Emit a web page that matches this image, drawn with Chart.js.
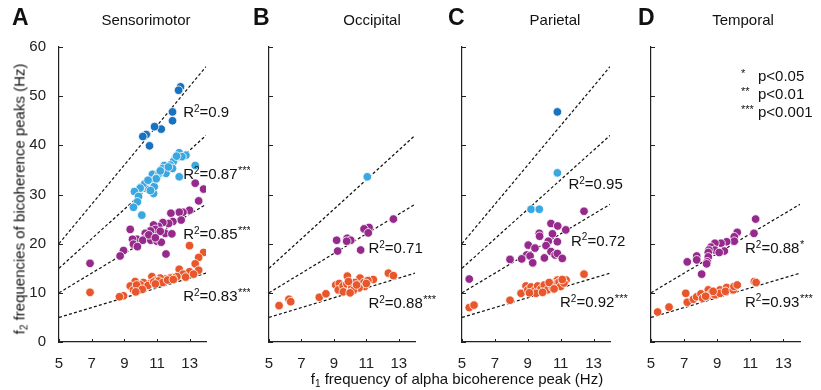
<!DOCTYPE html>
<html>
<head>
<meta charset="utf-8">
<script src="https://cdn.jsdelivr.net/npm/chart.js@4.4.0/dist/chart.umd.min.js"></script>
<style>
body{margin:0;background:#fff;width:821px;height:390px;position:relative;overflow:hidden;font-family:"Liberation Sans",Arial,Helvetica,sans-serif;color:#111}
canvas{position:absolute;top:0}
.let{position:absolute;top:4px;font-weight:bold;font-size:23px}
.ttl{position:absolute;top:11px;font-size:15px;transform:translateX(-50%);white-space:nowrap}
sub{font-size:10px;vertical-align:-3px;line-height:0}
#ytitle{position:absolute;left:19px;top:199px;transform:translate(-50%,-50%) rotate(-90deg);white-space:nowrap;font-size:15px}
#xtitle{position:absolute;left:457px;top:378px;transform:translate(-50%,-50%);white-space:nowrap;font-size:15px}
.lg{position:absolute;left:741px;font-size:15px;white-space:nowrap}
.lg span{display:inline-block;width:17px;font-size:11px;vertical-align:4px}
</style>
</head>
<body>
<canvas id="pA" width="250" height="372" style="left:0px"></canvas>
<canvas id="pB" width="190" height="372" style="left:250px"></canvas>
<canvas id="pC" width="190" height="372" style="left:440px"></canvas>
<canvas id="pD" width="191" height="372" style="left:630px"></canvas>

<div class="let" style="left:12px">A</div>
<div class="let" style="left:253px">B</div>
<div class="let" style="left:448px">C</div>
<div class="let" style="left:638px">D</div>
<div class="ttl" style="left:146px">Sensorimotor</div>
<div class="ttl" style="left:372px">Occipital</div>
<div class="ttl" style="left:555px">Parietal</div>
<div class="ttl" style="left:743px">Temporal</div>
<div id="ytitle">f<sub>2</sub> frequencies of bicoherence peaks (Hz)</div>
<div id="xtitle">f<sub>1</sub> frequency of alpha bicoherence peak (Hz)</div>
<div class="lg" style="top:67px"><span>*</span>p&lt;0.05</div>
<div class="lg" style="top:85px"><span>**</span>p&lt;0.01</div>
<div class="lg" style="top:103px"><span>***</span>p&lt;0.001</div>

<script>
var xTicks = [5, 7, 9, 11, 13];
var yTicks = [0, 10, 20, 30, 40, 50, 60];
var fitX = [5, 14];

// harmonic colours: f1, 2f1, 3f1, 4f1
var colors = ['#e8572b', '#962a8c', '#3ba7e1', '#1872bf'];

// Sensorimotor
var smH1 = [[6.9,10.1],[12.99,19.6],[13.85,18.2],[13.55,17.2],[13.34,15.9],[13.55,14.6],[12.36,14.8],[12.99,14.3],[13.24,13.8],[12.59,13.8],[12.22,13.3],[11.95,13.1],[11.81,13.0],[11.5,12.8],[11.2,13.0],[10.69,13.3],[10.9,12.5],[10.58,11.9],[10.17,12.1],[9.66,12.3],[9.36,11.4],[9.56,10.6],[9.87,10.9],[10.28,11.2],[10.0,11.6],[10.45,11.5],[10.8,12.2],[11.1,12.4],[11.35,12.1],[11.65,12.6],[9.75,11.6],[10.1,10.7],[8.95,9.4],[8.7,9.2],[10.9,11.8],[12.0,12.7],[12.75,13.2],[9.7,10.2]];
var smH2 = [[13.34,32.3],[13.85,31.1],[13.55,28.7],[12.99,26.8],[12.59,26.4],[12.36,26.4],[11.85,26.2],[12.48,24.8],[11.97,24.5],[11.71,24.1],[11.36,24.3],[11.09,23.5],[10.79,23.8],[10.89,22.9],[10.6,22.6],[9.36,22.9],[10.28,22.1],[11.5,22.1],[11.91,22.0],[10.38,21.4],[9.77,20.9],[9.5,20.9],[10.13,20.7],[10.62,20.7],[11.0,20.5],[11.26,20.3],[9.56,19.9],[9.8,19.4],[8.95,18.6],[8.74,17.5],[11.55,17.9],[6.9,16.0],[10.5,21.8],[11.2,22.5],[10.9,21.2]];
var smH3 = [[12.77,38.0],[12.36,38.5],[12.53,37.7],[12.12,37.4],[12.0,36.7],[11.81,36.0],[11.44,35.9],[11.34,35.3],[11.55,34.3],[11.95,35.3],[13.34,35.9],[12.36,33.6],[10.72,34.1],[11.03,33.6],[11.13,34.3],[10.83,32.9],[10.58,32.6],[10.38,31.9],[10.07,31.6],[10.25,32.2],[9.66,30.6],[9.97,31.3],[10.79,30.2],[10.5,31.0],[9.62,30.6],[9.87,29.6],[9.8,28.5],[9.56,27.4],[10.07,25.8],[10.83,31.6],[10.6,30.8],[11.2,34.8],[11.7,35.6],[10.95,33.2],[10.45,32.9],[12.2,37.8]];
var smH4 = [[12.44,51.9],[12.32,51.2],[11.95,46.8],[11.95,45.0],[11.26,43.3],[10.85,43.8],[10.34,42.2],[10.13,41.8],[10.54,39.9]];

// Occipital
var ocH1 = [[5.62,7.4],[6.23,8.7],[6.34,8.2],[8.1,9.1],[8.51,9.8],[9.11,11.6],[9.33,11.9],[9.83,13.4],[10.61,13.0],[11.43,12.7],[12.36,14.0],[12.67,13.5],[9.27,10.6],[9.57,11.4],[9.8,11.8],[10.1,11.2],[10.3,12.1],[10.85,12.1],[11.1,12.5],[10.9,11.3],[10.55,11.0],[9.58,10.2],[10.2,10.5],[11.0,11.9],[10.0,10.0],[9.9,12.3],[10.4,11.6]];
var ocH2 = [[12.67,25.0],[11.17,23.3],[10.86,23.0],[11.12,22.2],[9.17,20.7],[9.82,21.1],[10.04,20.7],[9.79,20.5],[9.23,18.5],[10.65,18.7]];
var ocH3 = [[11.06,33.6]];

// Parietal
var paH1 = [[5.44,7.0],[5.73,7.5],[7.92,8.5],[8.59,9.9],[12.42,13.8],[8.89,11.4],[11.33,12.6],[10.8,12.6],[9.0,10.6],[9.2,11.2],[9.4,10.4],[9.6,11.4],[9.8,10.8],[9.5,9.9],[10.0,11.6],[10.2,10.6],[10.4,11.9],[10.5,11.1],[10.7,11.8],[10.9,12.2],[11.0,11.3],[11.2,12.0],[9.1,10.0],[9.9,10.1],[10.3,12.1],[10.6,10.8],[11.1,12.7]];
var paH2 = [[5.44,12.8],[12.42,26.6],[10.41,24.1],[10.82,23.6],[11.31,22.8],[9.7,22.1],[9.72,21.5],[10.5,22.0],[10.25,20.5],[10.8,20.4],[9.03,19.7],[10.11,19.6],[9.44,19.1],[10.41,18.4],[8.93,17.7],[9.14,17.5],[10.66,17.7],[10.8,18.0],[7.92,16.8],[8.63,16.9],[10.01,17.1],[11.1,17.0],[9.3,16.1]];
var paH3 = [[10.8,34.4],[9.2,27.0],[9.7,27.0]];
var paH4 = [[10.8,46.8]];

// Temporal
var teH1 = [[5.4,6.1],[6.09,7.1],[7.1,9.9],[7.19,8.1],[7.56,8.7],[7.76,9.2],[8.02,9.8],[8.12,8.9],[8.46,10.6],[8.46,9.4],[8.66,10.0],[8.86,9.6],[9.17,10.6],[9.17,9.9],[9.57,11.1],[9.5,10.3],[9.97,10.6],[10.01,11.3],[10.21,11.6],[11.24,12.3],[11.35,12.1],[8.3,9.3],[8.75,10.3]];
var teH2 = [[11.32,25.0],[11.22,22.1],[10.21,22.3],[10.03,21.4],[10.03,20.5],[9.57,20.4],[9.23,20.1],[8.86,20.1],[8.62,19.3],[8.86,18.7],[9.43,18.5],[9.12,18.2],[8.5,18.7],[8.46,18.2],[8.46,17.3],[7.76,17.5],[7.76,16.7],[8.4,16.3],[7.19,16.3],[8.36,15.9],[8.06,13.8]];

// fitted lines: y at x=5 and x=14
var fitsA = [[5,14],[10,28],[15,42],[20,56]];
var fitsB = [[5,14],[10,28],[15,42]];
var fitsC = [[5,14],[10,28],[15,42],[20,56]];
var fitsD = [[5,14],[10,28]];

// R2 value, stars
var r2A = [['0.9',''],['0.87','***'],['0.85','***'],['0.83','***']];
var r2B = [['0.71',''],['0.88','***']];
var r2C = [['0.95',''],['0.72',''],['0.92','***']];
var r2D = [['0.88','*'],['0.93','***']];

// where the R2 texts sit (data coords)
var posA = [[12.6,46.6],[12.6,34.0],[12.6,21.8],[12.6,9.1]];
var posB = [[11.13,18.9],[11.13,7.7]];
var posC = [[11.47,31.9],[11.63,20.4],[10.96,7.9]];
var posD = [[10.68,18.9],[10.68,8.0]];

var FONT = '"Liberation Sans", Arial, Helvetica, sans-serif';

function notesPlugin(texts, pos) {
  return {
    id: 'notes',
    afterDatasetsDraw: function(chart) {
      var ctx = chart.ctx, x = chart.scales.x, y = chart.scales.y, a = chart.chartArea;
      ctx.save();
      ctx.strokeStyle = '#222';
      ctx.lineWidth = 1;
      y.ticks.forEach(function(t) {
        var py = Math.round(y.getPixelForValue(t.value)) + 0.5;
        ctx.beginPath(); ctx.moveTo(a.left, py); ctx.lineTo(a.left + 4, py); ctx.stroke();
      });
      x.ticks.forEach(function(t) {
        var px = Math.round(x.getPixelForValue(t.value)) + 0.5;
        ctx.beginPath(); ctx.moveTo(px, a.bottom); ctx.lineTo(px, a.bottom - 3); ctx.stroke();
      });
      ctx.fillStyle = '#111';
      ctx.textBaseline = 'middle';
      ctx.textAlign = 'left';
      texts.forEach(function(t, i) {
        var px = x.getPixelForValue(pos[i][0]);
        var py = y.getPixelForValue(pos[i][1]);
        ctx.font = '15px ' + FONT;
        ctx.fillText('R', px, py);
        px += ctx.measureText('R').width;
        ctx.font = '10px ' + FONT;
        ctx.fillText('2', px, py - 4);
        px += ctx.measureText('2').width;
        ctx.font = '15px ' + FONT;
        ctx.fillText('=' + t[0], px, py);
        px += ctx.measureText('=' + t[0]).width;
        if (t[1]) {
          ctx.font = '11px ' + FONT;
          ctx.fillText(t[1], px + 0.5, py - 4);
        }
      });
      ctx.restore();
    }
  };
}

function panel(id, left, width, axisX, axisEnd, series, fits, texts, pos, showY) {
  var datasets = [];
  series.forEach(function(s, k) {
    datasets.push({
      data: s.map(function(p) { return {x: p[0], y: p[1]}; }),
      backgroundColor: colors[k],
      borderColor: '#fff',
      borderWidth: 0.8,
      pointRadius: 4.3,
      order: 0
    });
  });
  fits.forEach(function(f) {
    datasets.push({
      type: 'line',
      data: [{x: fitX[0], y: f[0]}, {x: fitX[1], y: f[1]}],
      borderColor: '#111',
      borderWidth: 1.2,
      borderDash: [3, 2.2],
      pointRadius: 0,
      fill: false,
      order: 1
    });
  });
  var tickFont = {size: 15, family: FONT};
  new Chart(document.getElementById(id), {
    type: 'scatter',
    data: {datasets: datasets},
    options: {
      responsive: false,
      animation: false,
      layout: {padding: {top: 47, right: left + width - axisEnd, bottom: 0, left: 0}},
      plugins: {legend: {display: false}, tooltip: {enabled: false}},
      scales: {
        x: {
          type: 'linear', min: 5, max: 14,
          afterBuildTicks: function(s) { s.ticks = xTicks.map(function(v) { return {value: v}; }); },
          afterFit: function(s) { s.height = 30; },
          grid: {display: false},
          border: {color: '#222', width: 1.2},
          ticks: {font: tickFont, color: '#222', padding: 5, maxRotation: 0}
        },
        y: {
          type: 'linear', min: 0, max: 60,
          afterBuildTicks: function(s) { s.ticks = yTicks.map(function(v) { return {value: v}; }); },
          afterFit: function(s) { s.width = axisX - left; },
          grid: {display: false},
          border: {color: '#222', width: 1.2},
          ticks: {display: showY, font: tickFont, color: '#222', padding: 5}
        }
      }
    },
    plugins: [notesPlugin(texts, pos)]
  });
}

panel('pA', 0, 250, 59, 206, [smH1, smH2, smH3, smH4], fitsA, r2A, posA, true);
panel('pB', 250, 190, 269, 415, [ocH1, ocH2, ocH3], fitsB, r2B, posB, false);
panel('pC', 440, 190, 462, 610, [paH1, paH2, paH3, paH4], fitsC, r2C, posC, false);
panel('pD', 630, 191, 651, 800, [teH1, teH2], fitsD, r2D, posD, false);
</script>
</body>
</html>
